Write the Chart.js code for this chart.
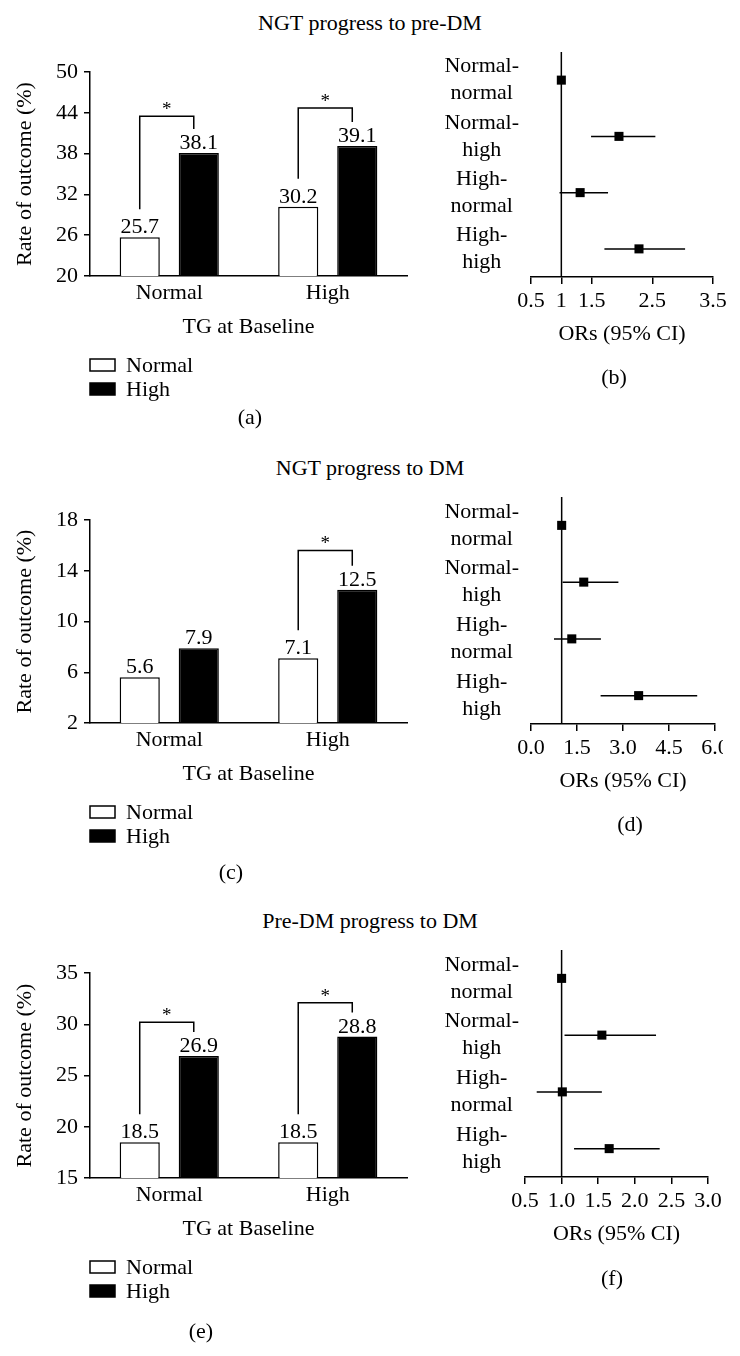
<!DOCTYPE html>
<html>
<head>
<meta charset="utf-8">
<script src="https://cdn.jsdelivr.net/npm/chart.js@4/dist/chart.umd.min.js"></script>
<style>
html, body { margin: 0; padding: 0; background: #fff; overflow: hidden; }
body { width: 740px; height: 1356px; position: relative; font-family: 'Liberation Serif', serif; color: #000; }
.txt { position: absolute; font-size: 22px; line-height: 26px; white-space: nowrap; }
.wrap { position: absolute; overflow: hidden; }
canvas { display: block; }
</style>
</head>
<body>

<div class="txt" style="left:0;width:740px;text-align:center;top:10px">NGT progress to pre-DM</div>
<div class="txt" style="left:0;width:740px;text-align:center;top:455px">NGT progress to DM</div>
<div class="txt" style="left:0;width:740px;text-align:center;top:908px">Pre-DM progress to DM</div>

<div class="wrap" style="left:0;top:0;width:420px;height:440px"><canvas id="ga" width="420" height="440"></canvas></div>
<div class="wrap" style="left:370px;top:0;width:370px;height:440px"><canvas id="gb" width="400" height="440"></canvas></div>
<div class="wrap" style="left:0;top:450px;width:420px;height:440px"><canvas id="gc" width="420" height="440"></canvas></div>
<div class="wrap" style="left:370px;top:450px;width:353px;height:440px"><canvas id="gd" width="400" height="440"></canvas></div>
<div class="wrap" style="left:0;top:900px;width:420px;height:440px"><canvas id="ge" width="420" height="440"></canvas></div>
<div class="wrap" style="left:370px;top:900px;width:370px;height:440px"><canvas id="gf" width="400" height="440"></canvas></div>

<div class="txt" style="left:230px;width:40px;text-align:center;top:404px">(a)</div>
<div class="txt" style="left:594px;width:40px;text-align:center;top:364px">(b)</div>
<div class="txt" style="left:211px;width:40px;text-align:center;top:859px">(c)</div>
<div class="txt" style="left:610px;width:40px;text-align:center;top:811px">(d)</div>
<div class="txt" style="left:181px;width:40px;text-align:center;top:1318px">(e)</div>
<div class="txt" style="left:592px;width:40px;text-align:center;top:1265px">(f)</div>

<script>
// TG at baseline groups and the legend series
const groups = ['Normal', 'High'];
const seriesNames = ['Normal', 'High'];

// rate of outcome (%)
const preDmNormal = [25.7, 30.2];
const preDmHigh = [38.1, 39.1];
const dmNormal = [5.6, 7.1];
const dmHigh = [7.9, 12.5];
const pdNormal = [18.5, 18.5];
const pdHigh = [26.9, 28.8];

// height of the * bracket for each group (null = no bracket)
const preDmSig = [43.5, 44.7];
const dmSig = [null, 15.6];
const pdSig = [30.2, 32.1];

// y ticks of the bar charts
const ticksA = [20, 26, 32, 38, 44, 50];
const ticksC = [2, 6, 10, 14, 18];
const ticksE = [15, 20, 25, 30, 35];

// forest plots: ORs and 95% CI
const rowLabels = [['Normal-', 'normal'], ['Normal-', 'high'], ['High-', 'normal'], ['High-', 'high']];
const orPreDm = [1, 1.95, 1.31, 2.28];
const loPreDm = [1, 1.49, 0.97, 1.71];
const hiPreDm = [1, 2.55, 1.77, 3.04];
const orDm = [1, 1.72, 1.33, 3.51];
const loDm = [1, 1.03, 0.75, 2.27];
const hiDm = [1, 2.85, 2.28, 5.42];
const orPd = [1, 1.55, 1.01, 1.65];
const loPd = [1, 1.04, 0.66, 1.17];
const hiPd = [1, 2.29, 1.55, 2.34];

const ticksB = [0.5, 1, 1.5, 2.5, 3.5];
const ticksD = [0, 1.5, 3, 4.5, 6];
const ticksF = [0.5, 1, 1.5, 2, 2.5, 3];

const FONT = { family: "'Liberation Serif', serif", size: 22 };
const CSSFONT = "22px 'Liberation Serif', serif";
Chart.defaults.color = '#000';
Chart.defaults.font.family = FONT.family;
Chart.defaults.font.size = FONT.size;

// value above each bar
const barLabels = {
    id: 'barLabels',
    afterDatasetsDraw(chart){
        let ctx = chart.ctx;
        ctx.save();
        ctx.font = CSSFONT;
        ctx.fillStyle = '#000';
        ctx.textAlign = 'center';
        ctx.textBaseline = 'alphabetic';
        chart.data.datasets.forEach((ds, i) => {
            chart.getDatasetMeta(i).data.forEach((bar, j) => {
                ctx.fillText(ds.data[j].toFixed(1), bar.x, bar.y - 4);
            });
        });
        ctx.restore();
    }
};

// significance brackets with a star
const sigBrackets = {
    id: 'sig',
    afterDatasetsDraw(chart, args, opts){
        let ctx = chart.ctx;
        let y = chart.scales.y;
        let m0 = chart.getDatasetMeta(0), m1 = chart.getDatasetMeta(1);
        ctx.save();
        ctx.strokeStyle = '#000';
        ctx.fillStyle = '#000';
        ctx.lineWidth = 1.5;
        ctx.font = "19px 'Liberation Serif', serif";
        ctx.textAlign = 'center';
        ctx.textBaseline = 'alphabetic';
        (opts.tops || []).forEach((t, i) => {
            if (t == null) return;
            let a = m0.data[i], b = m1.data[i];
            let xl = a.x, xr = b.x - 5, yt = y.getPixelForValue(t);
            ctx.beginPath();
            ctx.moveTo(xl, a.y - 28);
            ctx.lineTo(xl, yt);
            ctx.lineTo(xr, yt);
            ctx.lineTo(xr, b.y - 24);
            ctx.stroke();
            ctx.fillText('*', (xl + xr) / 2, yt - 1);
        });
        ctx.restore();
    }
};

// legend stacked under the axis title
const stackLegend = {
    id: 'stackLegend',
    afterDraw(chart){
        let ctx = chart.ctx;
        let bottom = chart.chartArea.bottom;
        ctx.save();
        ctx.font = CSSFONT;
        ctx.textBaseline = 'middle';
        ctx.textAlign = 'left';
        chart.data.datasets.forEach((ds, i) => {
            let cy = bottom + 89 + 24 * i;
            ctx.fillStyle = ds.backgroundColor;
            ctx.fillRect(90, cy - 6, 25, 12);
            ctx.strokeStyle = '#000';
            ctx.lineWidth = 1.5;
            ctx.strokeRect(90, cy - 6, 25, 12);
            ctx.fillStyle = '#000';
            ctx.fillText(ds.label, 126, cy + 1);
        });
        ctx.restore();
    }
};

function barChart(id, normal, high, sig, yTicks, top, bottom){
    new Chart(document.getElementById(id), {
        type: 'bar',
        data: {
            labels: groups,
            datasets: [
                { label: seriesNames[0], data: normal, backgroundColor: '#fff', borderColor: '#000', borderWidth: 1.5 },
                { label: seriesNames[1], data: high, backgroundColor: '#000', borderColor: '#000', borderWidth: 1.5 }
            ]
        },
        options: {
            responsive: false,
            animation: false,
            layout: { padding: { top: top, right: 13, bottom: 440 - bottom - 70, left: 0 } },
            datasets: { bar: { categoryPercentage: 0.745, barPercentage: 0.68 } },
            plugins: {
                legend: { display: false },
                tooltip: { enabled: false },
                sig: { tops: sig }
            },
            scales: {
                x: {
                    grid: { display: false, drawTicks: false },
                    border: { color: '#000', width: 1.5 },
                    ticks: { color: '#000', font: FONT, padding: 4 },
                    title: { display: true, text: 'TG at Baseline', color: '#000', font: FONT, padding: { top: 0, bottom: 6 } },
                    afterFit: s => { s.height = 70; }
                },
                y: {
                    min: yTicks[0],
                    max: yTicks[yTicks.length - 1],
                    afterBuildTicks: s => { s.ticks = yTicks.map(v => ({ value: v })); },
                    grid: { drawOnChartArea: false, drawTicks: true, tickLength: 6, color: '#000', lineWidth: 1.5 },
                    border: { color: '#000', width: 1.5 },
                    ticks: { color: '#000', font: FONT, padding: 6 },
                    title: { display: true, text: 'Rate of outcome (%)', color: '#000', font: FONT, padding: { top: 12, bottom: 0 } },
                    afterFit: s => { s.width = 90; }
                }
            }
        },
        plugins: [barLabels, sigBrackets, stackLegend]
    });
}

function forestChart(id, or, lo, hi, xTicks, fmt, top, bottom, left, right, labelPad){
    let rows = rowLabels.map((l, i) => i + 0.5);
    let datasets = [];
    datasets.push({ data: [{ x: 1, y: 0 }, { x: 1, y: 4 }], showLine: true, borderColor: '#000', borderWidth: 1.5, pointRadius: 0, clip: false });
    or.forEach((v, i) => {
        datasets.push({ data: [{ x: lo[i], y: rows[i] }, { x: hi[i], y: rows[i] }], showLine: true, borderColor: '#000', borderWidth: 1.5, pointRadius: 0 });
    });
    datasets.push({ data: or.map((v, i) => ({ x: v, y: rows[i] })), pointStyle: 'rect', pointRadius: 6.4, backgroundColor: '#000', borderColor: '#000', borderWidth: 0 });

    new Chart(document.getElementById(id), {
        type: 'scatter',
        data: { datasets: datasets },
        options: {
            responsive: false,
            animation: false,
            layout: { padding: { top: top, right: 400 - (right - 370), bottom: 440 - bottom - 70, left: 0 } },
            plugins: { legend: { display: false }, tooltip: { enabled: false } },
            scales: {
                x: {
                    type: 'linear',
                    min: xTicks[0],
                    max: xTicks[xTicks.length - 1],
                    afterBuildTicks: s => { s.ticks = xTicks.map(v => ({ value: v })); },
                    ticks: { callback: fmt, color: '#000', font: FONT, padding: 4, maxRotation: 0, autoSkip: false },
                    grid: { drawOnChartArea: false, drawTicks: true, tickLength: 7, color: '#000', lineWidth: 1.5 },
                    border: { color: '#000', width: 1.5 },
                    title: { display: true, text: 'ORs (95% CI)', color: '#000', font: FONT, padding: { top: 0, bottom: 0 } },
                    afterFit: s => { s.height = 70; }
                },
                y: {
                    type: 'linear',
                    reverse: true,
                    min: 0,
                    max: 4,
                    afterBuildTicks: s => { s.ticks = rows.map(v => ({ value: v })); },
                    ticks: { callback: (v, i) => rowLabels[i], crossAlign: 'center', padding: labelPad, color: '#000', font: { family: FONT.family, size: 22, lineHeight: 1.23 } },
                    grid: { display: false, drawTicks: false },
                    border: { display: false },
                    afterFit: s => { s.width = left - 370; }
                }
            }
        }
    });
}

barChart('ga', preDmNormal, preDmHigh, preDmSig, ticksA, 72, 276);
barChart('gc', dmNormal, dmHigh, dmSig, ticksC, 70, 273);
barChart('ge', pdNormal, pdHigh, pdSig, ticksE, 73, 278);

forestChart('gb', orPreDm, loPreDm, hiPreDm, ticksB, v => String(v), 52, 277, 531, 713, 12);
forestChart('gd', orDm, loDm, hiDm, ticksD, v => v.toFixed(1), 47, 274, 531, 715, 12);
forestChart('gf', orPd, loPd, hiPd, ticksF, v => v.toFixed(1), 50, 277, 525, 708, 6);
</script>
</body>
</html>
